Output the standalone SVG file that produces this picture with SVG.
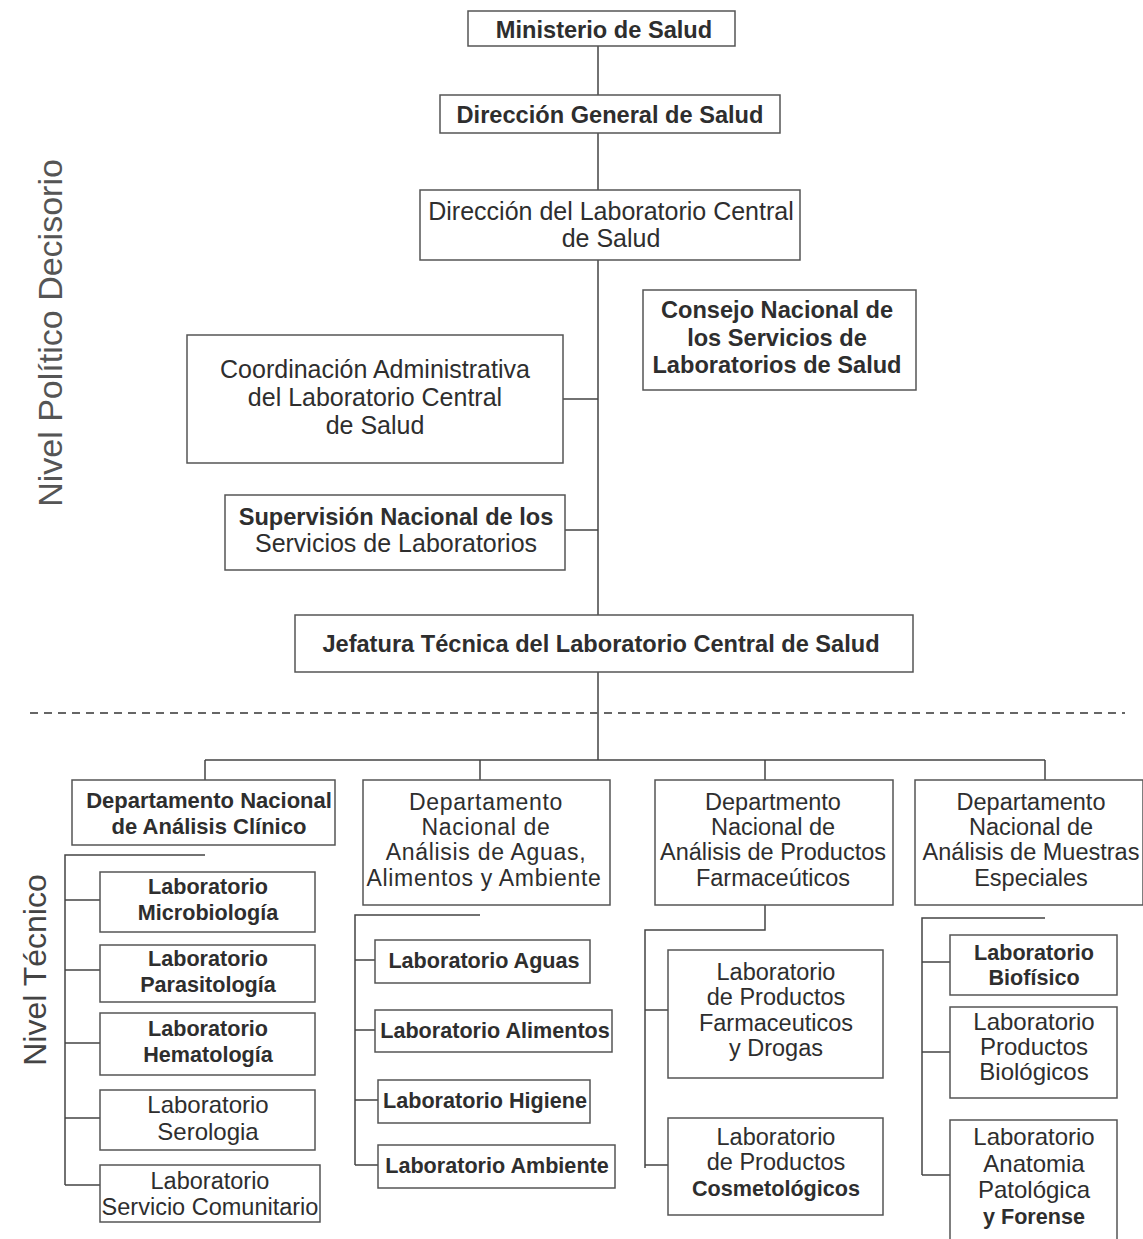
<svg xmlns="http://www.w3.org/2000/svg" width="1143" height="1239" viewBox="0 0 1143 1239">
<style>
.b{fill:#fff;stroke:#555;stroke-width:1.5}
.c{stroke:#444;stroke-width:1.5;fill:none}
text{font-family:"Liberation Sans",Arial,sans-serif;font-size:20px;fill:#2e2e2e;text-anchor:middle}
.tb{font-weight:bold;font-size:23.6px}
.tr{font-size:25px}
.lb{font-weight:bold;font-size:21.6px}
.lr{font-size:24px}
.m{font-size:23.5px}
.dn{font-size:23px;letter-spacing:0.7px}
.side{font-size:34px;fill:#555}
</style>
<rect width="1143" height="1239" fill="#fff"/>
<text class="side" transform="translate(62,333) rotate(-90)">Nivel Político Decisorio</text>
<text class="side" style="font-size:32px;fill:#444" transform="translate(46,970) rotate(-90)">Nivel Técnico</text>
<g id="connectors">
<path class="c" d="M598 46V95M598 133V190M598 260V615M563 399H598M565 530H598M598 672V760"/>
<line x1="30" y1="713" x2="1125" y2="713" stroke="#666" stroke-width="2" stroke-dasharray="8,6"/>
<path class="c" d="M205 760H1045M205 760V780M480 760V780M765 760V780M1045 760V780"/>
<path class="c" d="M205 855H65V1185M65 900H100M65 970H100M65 1043H100M65 1118H100M65 1185H100"/>
<path class="c" d="M480 915H355V1165M355 960H375M355 1030H375M355 1100H378M355 1165H378"/>
<path class="c" d="M765 905V930H645V1168M645 1010H668M645 1165H668"/>
<path class="c" d="M1045 918H922V1175M922 962H950M922 1052H950M922 1175H950"/>
</g>
<g id="n1"><rect class="b" x="468" y="11" width="267" height="35"/><text class="tb" x="604" y="38">Ministerio de Salud</text></g>
<g id="n2"><rect class="b" x="440" y="95" width="340" height="38"/><text class="tb" x="610" y="123">Dirección General de Salud</text></g>
<g id="n3"><rect class="b" x="420" y="190" width="380" height="70"/><text class="tr" x="611" y="220">Dirección del Laboratorio Central</text><text class="tr" x="611" y="247">de Salud</text></g>
<g id="n4"><rect class="b" x="643" y="290" width="273" height="100"/><text class="tb" x="777" y="318">Consejo Nacional de</text><text class="tb" x="777" y="346">los Servicios de</text><text class="tb" x="777" y="373">Laboratorios de Salud</text></g>
<g id="n5"><rect class="b" x="187" y="335" width="376" height="128"/><text class="tr" x="375" y="378">Coordinación Administrativa</text><text class="tr" x="375" y="406">del Laboratorio Central</text><text class="tr" x="375" y="434">de Salud</text></g>
<g id="n6"><rect class="b" x="225" y="495" width="340" height="75"/><text class="tb" x="396" y="525">Supervisión Nacional de los</text><text class="tr" x="396" y="552">Servicios de Laboratorios</text></g>
<g id="n7"><rect class="b" x="295" y="615" width="618" height="57"/><text class="tb" x="601" y="652">Jefatura Técnica del Laboratorio Central de Salud</text></g>
<g id="d1"><rect class="b" x="72" y="780" width="263" height="65"/><text class="lb" style="font-size:22px" x="209" y="808">Departamento Nacional</text><text class="lb" style="font-size:22px" x="209" y="834">de Análisis  Clínico</text></g>
<g id="d2"><rect class="b" x="363" y="780" width="247" height="125"/><text class="dn" x="486" y="810">Departamento</text><text class="dn" x="486" y="835">Nacional de</text><text class="dn" x="486" y="860">Análisis de Aguas,</text><text class="dn" x="484" y="886">Alimentos y Ambiente</text></g>
<g id="d3"><rect class="b" x="655" y="780" width="238" height="125"/><text class="m" x="773" y="810">Departmento</text><text class="m" x="773" y="835">Nacional de</text><text class="m" x="773" y="860">Análisis de Productos</text><text class="m" x="773" y="886">Farmaceúticos</text></g>
<g id="d4"><rect class="b" x="915" y="780" width="228" height="125"/><text class="m" x="1031" y="810">Departamento</text><text class="m" x="1031" y="835">Nacional de</text><text class="m" x="1031" y="860">Análisis de Muestras</text><text class="m" x="1031" y="886">Especiales</text></g>
<g id="l1"><rect class="b" x="100" y="872" width="215" height="60"/><text class="lb" x="208" y="894">Laboratorio</text><text class="lb" x="208" y="920">Microbiología</text></g>
<g id="l2"><rect class="b" x="100" y="945" width="215" height="57"/><text class="lb" x="208" y="966">Laboratorio</text><text class="lb" x="208" y="992">Parasitología</text></g>
<g id="l3"><rect class="b" x="100" y="1013" width="215" height="62"/><text class="lb" x="208" y="1036">Laboratorio</text><text class="lb" x="208" y="1062">Hematología</text></g>
<g id="l4"><rect class="b" x="100" y="1090" width="215" height="60"/><text class="lr" x="208" y="1113">Laboratorio</text><text class="lr" x="208" y="1140">Serologia</text></g>
<g id="l5"><rect class="b" x="100" y="1165" width="220" height="57"/><text class="m" x="210" y="1189">Laboratorio</text><text class="m" x="210" y="1215">Servicio Comunitario</text></g>
<g id="l6"><rect class="b" x="375" y="940" width="215" height="43"/><text class="lb" x="484" y="968">Laboratorio Aguas</text></g>
<g id="l7"><rect class="b" x="375" y="1010" width="237" height="42"/><text class="lb" x="495" y="1038">Laboratorio Alimentos</text></g>
<g id="l8"><rect class="b" x="378" y="1080" width="212" height="43"/><text class="lb" x="485" y="1108">Laboratorio Higiene</text></g>
<g id="l9"><rect class="b" x="378" y="1145" width="237" height="43"/><text class="lb" x="497" y="1173">Laboratorio Ambiente</text></g>
<g id="l10"><rect class="b" x="668" y="950" width="215" height="128"/><text class="m" x="776" y="980">Laboratorio</text><text class="m" x="776" y="1005">de Productos</text><text class="m" x="776" y="1031">Farmaceuticos</text><text class="m" x="776" y="1056">y Drogas</text></g>
<g id="l11"><rect class="b" x="668" y="1118" width="215" height="97"/><text class="m" x="776" y="1145">Laboratorio</text><text class="m" x="776" y="1170">de Productos</text><text class="lb" x="776" y="1196">Cosmetológicos</text></g>
<g id="l12"><rect class="b" x="950" y="935" width="167" height="60"/><text class="lb" x="1034" y="960">Laboratorio</text><text class="lb" x="1034" y="985">Biofísico</text></g>
<g id="l13"><rect class="b" x="950" y="1007" width="167" height="91"/><text class="lr" x="1034" y="1030">Laboratorio</text><text class="lr" x="1034" y="1055">Productos</text><text class="lr" x="1034" y="1080">Biológicos</text></g>
<g id="l14"><rect class="b" x="950" y="1120" width="167" height="125"/><text class="lr" x="1034" y="1145">Laboratorio</text><text class="lr" x="1034" y="1172">Anatomia</text><text class="lr" x="1034" y="1198">Patológica</text><text class="lb" x="1034" y="1224">y Forense</text></g>
</svg>
